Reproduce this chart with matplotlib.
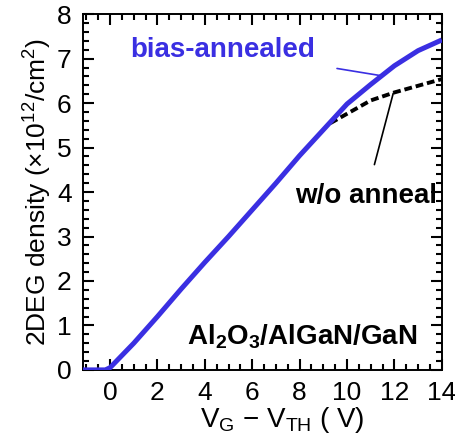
import numpy as np
import matplotlib.pyplot as plt
from matplotlib.ticker import MultipleLocator

plt.rcParams['font.family'] = 'Liberation Sans'

# bias-annealed curve
v_ann = [-1.15, -0.2, 0, 1, 2, 3, 4, 5, 6, 7, 8, 9, 10, 11, 12, 13, 14]
n_ann = [0, 0, 0.05, 0.6, 1.2, 1.82, 2.42, 3.0, 3.6, 4.2, 4.82, 5.4, 5.98, 6.42, 6.84, 7.18, 7.42]

# without anneal (only where it departs)
v_raw = [9.3, 10, 11, 12, 13, 14]
n_raw = [5.55, 5.76, 6.06, 6.24, 6.39, 6.54]

blue = '#3a2fe2'

fig = plt.figure(figsize=(4.55, 4.43), dpi=100)
ax = fig.add_axes([0.182, 0.165, 0.789, 0.803])

ax.plot(v_raw, n_raw, color='black', lw=2.8, ls=(0, (2, 1)), zorder=2)
ax.plot(v_ann, n_ann, color=blue, lw=3.6, zorder=3, solid_capstyle='butt')

ax.set_xlim(-1.15, 14)
ax.set_ylim(0, 8)
ax.xaxis.set_major_locator(MultipleLocator(2))
ax.xaxis.set_minor_locator(MultipleLocator(0.5))
ax.yaxis.set_major_locator(MultipleLocator(1))
ax.yaxis.set_minor_locator(MultipleLocator(0.2))
ax.tick_params(which='both', direction='in', top=True, right=True, width=1.5)
ax.tick_params(which='major', length=8, labelsize=19, pad=8)
ax.tick_params(which='minor', length=4.5)
for s in ax.spines.values():
    s.set_linewidth(1.4)

ax.set_xlabel(r'V$\mathregular{_G}$ $\mathregular{-}$ V$\mathregular{_{TH}}$ ( V)', fontsize=20)
ax.xaxis.set_label_coords(0.555, -0.1)
ax.set_ylabel(r'2DEG density (×10$\mathregular{^{12}}$/cm$\mathregular{^2}$)', fontsize=19, labelpad=2)

ax.annotate('bias-annealed', xy=(11.4, 6.62), xytext=(4.75, 7.2),
            fontsize=20, fontweight='bold', color=blue, ha='center', va='center',
            arrowprops=dict(arrowstyle='-', color=blue, lw=1.2, shrinkA=14, shrinkB=0))
ax.annotate('w/o anneal', xy=(11.95, 6.22), xytext=(10.8, 3.9),
            fontsize=20, fontweight='bold', color='black', ha='center', va='center',
            arrowprops=dict(arrowstyle='-', color='black', lw=1.2, shrinkA=12, shrinkB=0))
ax.text(8.1, 0.75, r'$\mathregular{Al_2O_3}$/AlGaN/GaN', fontsize=20, fontweight='bold',
        ha='center', va='center')

fig.savefig('out.png', dpi=100)
